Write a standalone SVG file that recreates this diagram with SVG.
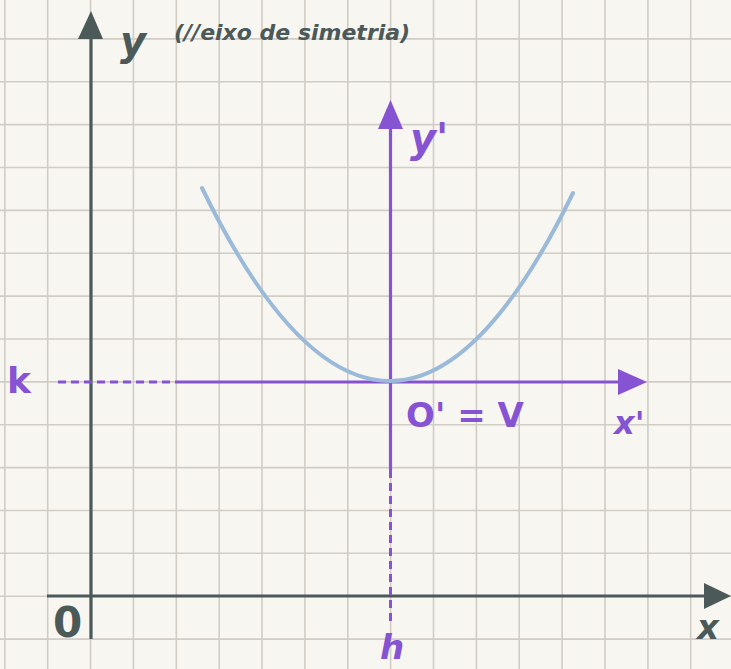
<svg xmlns="http://www.w3.org/2000/svg" width="731" height="669" viewBox="0 0 731 669">
<style>
.grid{stroke:#d1cdc5;stroke-width:1.6;fill:none}
.ax{stroke:#4b5959;stroke-width:3.2;fill:none}
.axh{fill:#4b5959}
.pu{stroke:#8653d3;stroke-width:3.2;fill:none}
.puh{fill:#8653d3}
.dash{stroke:#8653d3;stroke-width:3;fill:none;stroke-dasharray:8 5}
.curve{stroke:#9bbad9;stroke-width:4;fill:none;stroke-linecap:round}
.tg{font-family:"DejaVu Sans","Liberation Sans",sans-serif;fill:#4b5959;font-weight:bold}
.tp{font-family:"DejaVu Sans","Liberation Sans",sans-serif;fill:#8653d3;font-weight:bold}
</style>
<rect x="0" y="0" width="731" height="669" fill="#f8f6f1"/>
<g id="grid">
<path class="grid" d="M4.8 0V669M47.7 0V669M90.5 0V669M133.4 0V669M176.3 0V669M219.2 0V669M262 0V669M304.9 0V669M347.8 0V669M390.6 0V669M433.5 0V669M476.4 0V669M519.2 0V669M562.1 0V669M605 0V669M647.9 0V669M690.7 0V669"/>
<path class="grid" d="M0 38.9H731M0 81.8H731M0 124.6H731M0 167.5H731M0 210.4H731M0 253.3H731M0 296.1H731M0 339H731M0 381.9H731M0 424.7H731M0 467.6H731M0 510.5H731M0 553.3H731M0 596.2H731M0 639.1H731"/>
</g>
<g id="connectors">
<path class="ax" d="M91 639V38"/>
<polygon class="axh" points="78,39 103,39 91,11"/>
<path class="ax" d="M47 596H706"/>
<polygon class="axh" points="704,583 704,609 731,596"/>
<path class="dash" d="M58 382H183"/>
<path class="pu" d="M183 382H620"/>
<polygon class="puh" points="618,369 618,395 647,382"/>
<path class="pu" d="M390.5 470V128"/>
<polygon class="puh" points="378,129 403,129 390.5,100"/>
<path class="dash" d="M390.5 470V622"/>
<path id="parabola" class="curve" d="M202 188Q296 381 390 381Q481.5 381 573 193"/>
</g>
<g id="label-y"><text class="tg" x="120" y="55" font-size="40" font-style="italic" font-weight="normal">y</text></g>
<g id="label-eixo"><text class="tg" x="174" y="40" font-size="22" font-style="italic" font-weight="normal">(//eixo de simetria)</text></g>
<g id="label-yp"><text class="tp" x="410" y="152" font-size="40" font-style="italic" font-weight="normal">y'</text></g>
<g id="label-k"><text class="tp" x="7" y="393" font-size="36">k</text></g>
<g id="label-ov"><text class="tp" x="406" y="427" font-size="34">O' = V</text></g>
<g id="label-xp"><text class="tp" x="614" y="434" font-size="32" font-style="italic">x'</text></g>
<g id="label-0"><text class="tg" x="53" y="637" font-size="42">0</text></g>
<g id="label-h"><text class="tp" x="380" y="659" font-size="34" font-style="italic" font-weight="normal">h</text></g>
<g id="label-x"><text class="tg" x="697" y="639" font-size="34" font-style="italic">x</text></g>
</svg>
